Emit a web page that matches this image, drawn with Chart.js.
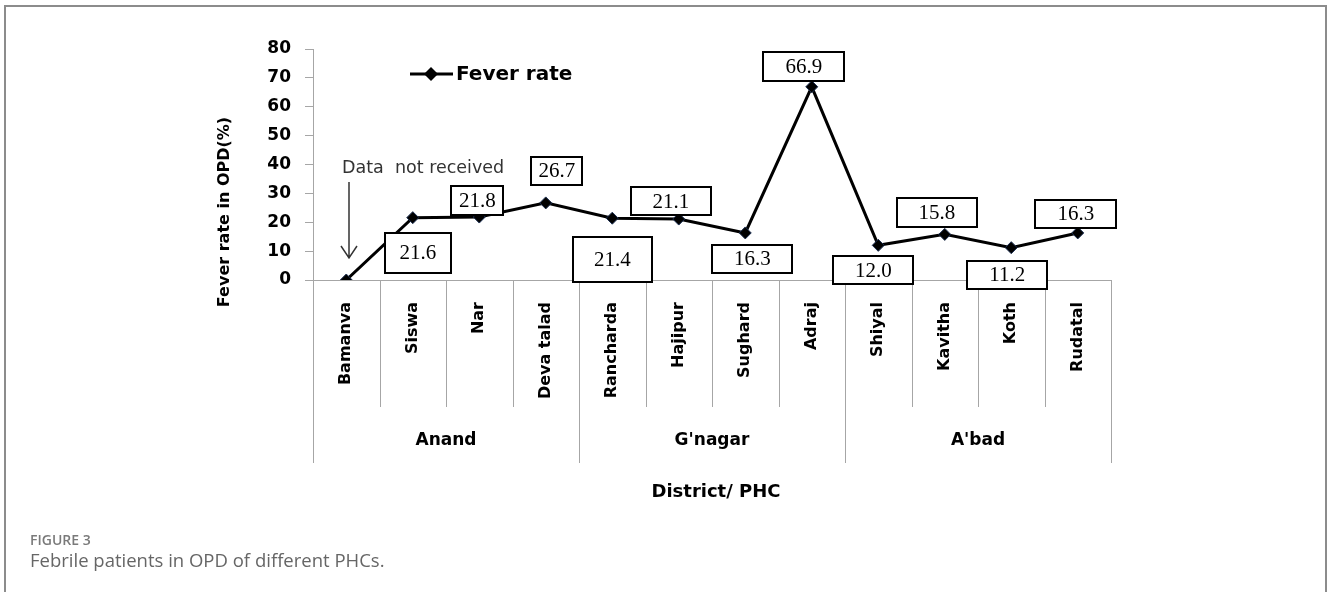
<!DOCTYPE html>
<html>
<head>
<meta charset="utf-8">
<script src="https://cdn.jsdelivr.net/npm/chart.js@4/dist/chart.umd.min.js"></script>
<style>
  html, body { margin: 0; padding: 0; background: #fff; }
  #wrap { position: relative; width: 1328px; height: 592px; overflow: hidden; }
  #frame { position: absolute; left: 4px; top: 5px; width: 1323px; height: 700px; border: 2px solid #8c8c8c; box-sizing: border-box; }
  #chart { position: absolute; left: 0; top: 0; }
  .fig { position: absolute; left: 30px; font-family: "Open Sans", sans-serif; white-space: nowrap; }
  #figno { top: 530px; font-size: 14px; font-weight: 600; color: #7a7a7a; }
  #figcap { top: 547px; font-size: 18.5px; color: #666; }
</style>
</head>
<body>
<div id="wrap">
  <div id="frame"></div>
  <canvas id="chart" width="1328" height="592"></canvas>
  <div class="fig" id="figno">FIGURE 3</div>
  <div class="fig" id="figcap">Febrile patients in OPD of different PHCs.</div>
</div>
<script>
const phcs = ["Bamanva", "Siswa", "Nar", "Deva talad", "Rancharda", "Hajipur",
  "Sughard", "Adraj", "Shiyal", "Kavitha", "Koth", "Rudatal"];
const feverRate = [0, 21.6, 21.8, 26.7, 21.4, 21.1, 16.3, 66.9, 12.0, 15.8, 11.2, 16.3];
const districts = ["Anand", "G'nagar", "A'bad"];
const phcsPerDistrict = [4, 4, 4];
const yMin = 0, yMax = 80, yStep = 10;

// where each value box sits relative to its point (Bamanva has none)
const boxLayout = [null,
  { dx: 5, dy: 35, w: 66, h: 40 },
  { dx: -2, dy: -17, w: 52, h: 29 },
  { dx: 11, dy: -32, w: 51, h: 28 },
  { dx: 0, dy: 41, w: 79, h: 45 },
  { dx: -8, dy: -18, w: 80, h: 28 },
  { dx: 7, dy: 26, w: 80, h: 28 },
  { dx: -8, dy: -20, w: 81, h: 29 },
  { dx: -5, dy: 25, w: 80, h: 28 },
  { dx: -8, dy: -22, w: 80, h: 29 },
  { dx: -4, dy: 27, w: 80, h: 28 },
  { dx: -2, dy: -19, w: 81, h: 28 }
];

const BOLD = 'bold 16px "DejaVu Sans"';
const GRID = "#a6a6a6";

const extras = {
  id: "extras",
  afterDraw(chart) {
    const ctx = chart.ctx;
    const xs = chart.scales.x;
    const area = chart.chartArea;
    const step = xs.width / phcs.length;
    ctx.save();

    // category / district dividers under the axis
    ctx.strokeStyle = GRID;
    ctx.lineWidth = 1;
    const edges = [0];
    phcsPerDistrict.forEach(n => edges.push(edges[edges.length - 1] + n));
    for (let i = 0; i <= phcs.length; i++) {
      const x = Math.round(xs.left + i * step) + 0.5;
      const bottom = edges.includes(i) ? 463 : 407;
      ctx.beginPath();
      ctx.moveTo(x, area.bottom);
      ctx.lineTo(x, bottom);
      ctx.stroke();
    }

    ctx.fillStyle = "#000";
    ctx.textAlign = "center";
    ctx.textBaseline = "middle";
    ctx.font = 'bold 17px "DejaVu Sans"';
    districts.forEach((d, k) => {
      const x = xs.left + (edges[k] + edges[k + 1]) / 2 * step;
      ctx.fillText(d, x, 441);
    });

    // axis titles
    ctx.font = 'bold 18px "DejaVu Sans"';
    ctx.fillText("District/ PHC", (area.left + area.right) / 2 + 4, 492);
    ctx.save();
    ctx.translate(225, 212);
    ctx.rotate(-Math.PI / 2);
    ctx.font = BOLD;
    ctx.fillText("Fever rate in OPD(%)", 0, 0);
    ctx.restore();

    // legend
    ctx.strokeStyle = "#000";
    ctx.lineWidth = 3;
    ctx.beginPath();
    ctx.moveTo(410, 74);
    ctx.lineTo(453, 74);
    ctx.stroke();
    ctx.beginPath();
    ctx.moveTo(431, 67); ctx.lineTo(438, 74); ctx.lineTo(431, 81); ctx.lineTo(424, 74);
    ctx.closePath();
    ctx.fill();
    ctx.textAlign = "left";
    ctx.font = 'bold 20px "DejaVu Sans"';
    ctx.fillText("Fever rate", 456, 75);

    // missing data note
    ctx.fillStyle = "#333";
    ctx.font = '17.5px "DejaVu Sans"';
    ctx.fillText("Data  not received", 342, 168);
    ctx.strokeStyle = "#333";
    ctx.lineWidth = 1.5;
    ctx.beginPath();
    ctx.moveTo(349, 182); ctx.lineTo(349, 258);
    ctx.moveTo(341, 246); ctx.lineTo(349, 258); ctx.lineTo(357, 246);
    ctx.stroke();

    // value boxes
    const pts = chart.getDatasetMeta(0).data;
    ctx.font = '21px "Liberation Serif"';
    ctx.textAlign = "center";
    feverRate.forEach((v, i) => {
      const b = boxLayout[i];
      if (!b) return;
      const cx = pts[i].x + b.dx, cy = pts[i].y + b.dy;
      const x0 = Math.round(cx - b.w / 2), y0 = Math.round(cy - b.h / 2);
      ctx.fillStyle = "#fff";
      ctx.fillRect(x0, y0, b.w, b.h);
      ctx.strokeStyle = "#000";
      ctx.lineWidth = 2;
      ctx.strokeRect(x0, y0, b.w, b.h);
      ctx.fillStyle = "#000";
      ctx.fillText(v.toFixed(1), cx, cy + 1);
    });
    ctx.restore();
  }
};

new Chart(document.getElementById("chart"), {
  type: "line",
  data: {
    labels: phcs,
    datasets: [{
      label: "Fever rate",
      data: feverRate,
      borderColor: "#000",
      borderWidth: 3,
      tension: 0,
      pointStyle: "rectRot",
      pointRadius: 6,
      pointBackgroundColor: "#000",
      pointBorderColor: "#1c2f52",
      pointBorderWidth: 1
    }]
  },
  options: {
    responsive: false,
    animation: false,
    layout: { padding: { left: 211, right: 217, top: 49, bottom: 112 } },
    plugins: { legend: { display: false }, tooltip: { enabled: false } },
    scales: {
      x: {
        offset: true,
        afterFit: s => { s.height = 200; },
        grid: { display: false, drawTicks: false },
        border: { display: true, color: GRID, width: 1 },
        ticks: {
          autoSkip: false, minRotation: 90, maxRotation: 90, padding: 22,
          color: "#000", font: { family: "DejaVu Sans", size: 16, weight: "bold" }
        }
      },
      y: {
        min: yMin, max: yMax,
        afterFit: s => { s.width = 102; },
        grid: { drawOnChartArea: false, tickLength: 8, color: GRID },
        border: { display: true, color: GRID, width: 1 },
        ticks: {
          stepSize: yStep, padding: 14, color: "#000",
          font: { family: "DejaVu Sans", size: 17, weight: "bold" }
        }
      }
    }
  },
  plugins: [extras]
});
</script>
</body>
</html>
